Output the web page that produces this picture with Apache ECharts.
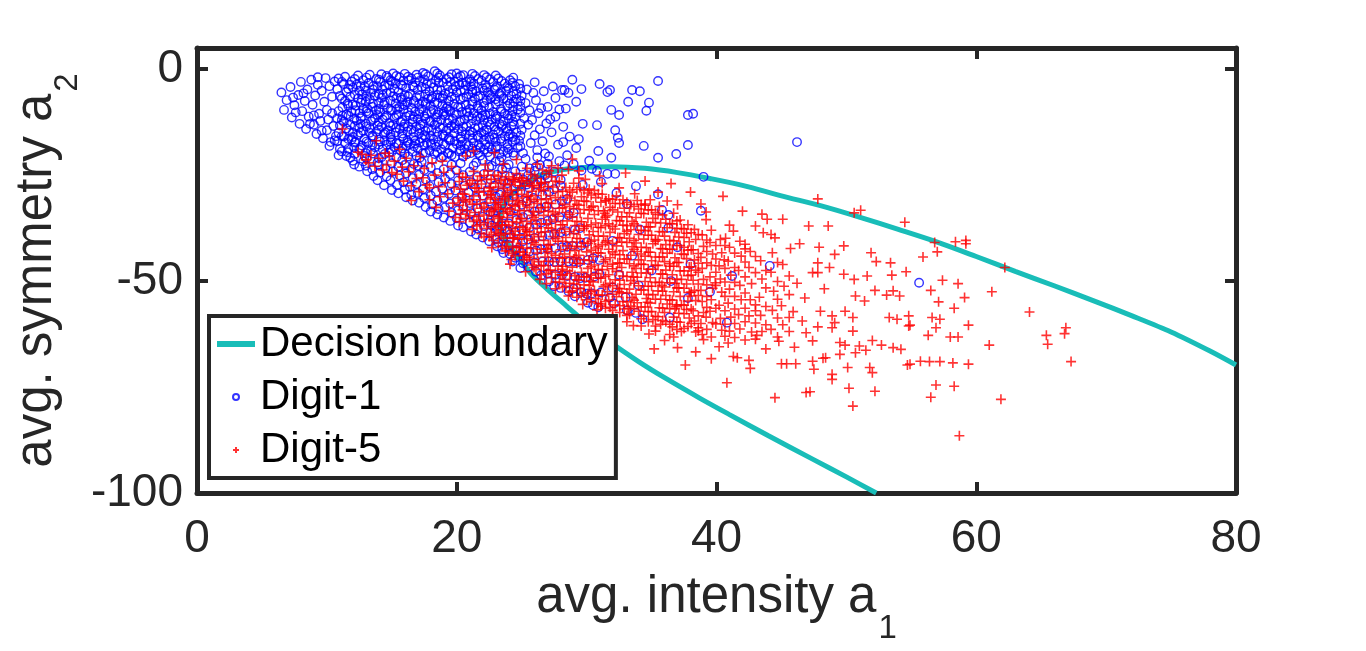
<!DOCTYPE html>
<html>
<head>
<meta charset="utf-8">
<title>Decision boundary</title>
<script src="https://cdn.jsdelivr.net/npm/echarts@6/dist/echarts.min.js"></script>
<style>
  html, body { margin: 0; padding: 0; background: #fff; }
  #chart { width: 1366px; height: 651px; }
</style>
</head>
<body>
<div id="chart"></div>
<script>
// axis ticks
const xTicks = [0, 20, 40, 60, 80];
const yTicks = [-100, -50, 0];

// decision boundary (lower branch first, then upper)
const boundary = [
  [52.3,-100],[50.0,-96.2],[47.4,-92.0],[44.0,-86.5],[41.0,-81.5],[38.7,-77.6],[36.0,-72.8],[34.0,-69.0],
  [32.0,-64.8],[30.0,-60.0],[28.5,-56.0],[27.0,-52.0],[25.7,-48.2],[24.8,-44.6],[24.0,-41.5],[23.5,-38.8],
  [23.3,-36.0],[23.5,-32.8],[24.1,-30.0],[25.0,-27.6],[26.2,-25.3],[27.8,-23.9],[29.8,-23.2],[32.0,-23.0],
  [34.5,-23.4],[37.0,-24.4],[39.5,-25.8],[42.0,-27.4],[45.0,-29.9],[48.0,-32.2],[51.0,-34.9],[54.0,-37.8],
  [57.0,-40.8],[60.0,-44.2],[63.0,-47.7],[66.0,-51.1],[69.0,-54.6],[72.0,-58.2],[75.0,-62.0],[78.0,-66.5],[80.0,-69.8]
];

// Digit-1 (blue circles)
const digit1Tip = [
  [6.5,-5.5],[6.7,-9.6],[6.9,-7.3],[7.2,-4.2],[7.3,-11.4],[7.5,-8.5],[7.8,-6.1],[7.9,-12.9],[8.0,-3.0],[8.1,-9.9],
  [8.3,-7.5],[8.4,-14.1],[8.5,-4.8],[8.6,-11.2],[8.8,-2.5],[8.9,-8.4],[9.0,-13.1],[9.1,-6.2],[9.2,-15.3],[9.3,-3.7],
  [9.4,-10.5],[9.5,-12.2],[9.6,-5.1],[9.7,-16.3],[9.8,-7.7],[9.9,-2.1],[10.0,-14.4],[10.0,-9.6],[10.1,-11.9],[10.2,-4.0],
  [10.3,-17.2],[10.4,-6.5],[10.5,-13.4],[10.6,-2.9],[10.7,-15.8],[10.4,-10.4],[10.2,-18.1]
];
const digit1Core = [
  [10.9,-2.2],[10.8,-4.7],[11.0,-6.3],[10.9,-9.9],[10.8,-11.6],[11.0,-13.3],[10.9,-15.0],[10.8,-17.0],[11.0,-18.8],[10.9,-20.3],
  [11.4,-1.8],[11.3,-3.5],[11.5,-5.4],[11.4,-7.5],[11.2,-9.0],[11.5,-10.7],[11.3,-12.4],[11.5,-14.0],[11.3,-15.9],[11.4,-17.4],[11.6,-19.6],
  [11.9,-2.9],[12.0,-4.4],[11.8,-6.5],[12.0,-8.3],[11.9,-10.1],[12.1,-11.7],[11.8,-13.1],[12.0,-15.0],[11.9,-16.6],[12.1,-18.5],[11.8,-20.9],
  [12.4,-1.5],[12.3,-3.6],[12.5,-5.1],[12.4,-6.9],[12.2,-8.6],[12.5,-10.4],[12.3,-12.1],[12.5,-13.8],[12.4,-15.5],[12.2,-17.1],[12.5,-19.0],
  [12.8,-2.6],[12.9,-4.1],[12.7,-6.0],[13.0,-7.7],[12.8,-9.4],[12.7,-11.2],[13.0,-12.9],[12.8,-14.5],[12.9,-16.4],[12.7,-18.0],[13.0,-19.8],
  [13.3,-1.3],[13.2,-3.3],[13.4,-5.6],[13.3,-7.1],[13.5,-8.9],[13.2,-10.4],[13.4,-12.3],[13.3,-13.9],[13.5,-15.7],[13.2,-17.4],[13.4,-19.1],
  [13.8,-2.3],[13.9,-4.0],[13.7,-6.3],[14.0,-8.0],[13.8,-9.7],[13.7,-11.5],[13.9,-13.3],[13.8,-14.8],[14.0,-16.6],[13.7,-18.4],
  [14.2,-1.2],[14.1,-3.0],[14.3,-4.8],[14.2,-6.8],[14.4,-8.4],[14.1,-10.2],[14.3,-11.9],[14.2,-13.6],[14.4,-15.3],[14.1,-17.1],[14.3,-18.9],
  [14.7,-2.0],[14.8,-3.8],[14.6,-5.7],[14.9,-7.4],[14.7,-9.2],[14.6,-10.9],[14.8,-12.7],[14.7,-14.4],[14.9,-16.0],[14.6,-17.8],[14.8,-19.7],
  [15.1,-1.0],[15.0,-2.9],[15.2,-4.6],[15.1,-6.4],[15.3,-8.1],[15.0,-9.8],[15.2,-11.5],[15.1,-13.1],[15.3,-14.9],[15.0,-16.7],[15.2,-18.4],
  [15.6,-1.9],[15.7,-3.6],[15.5,-5.4],[15.8,-7.2],[15.6,-8.9],[15.5,-10.7],[15.7,-12.4],[15.6,-14.1],[15.8,-15.8],[15.5,-17.6],[15.7,-19.3],
  [16.0,-1.1],[15.9,-2.7],[16.1,-4.4],[16.0,-6.1],[16.2,-7.8],[15.9,-9.5],[16.1,-11.2],[16.0,-12.9],[16.2,-14.7],[15.9,-16.4],[16.1,-18.1],[16.0,-19.9],
  [16.5,-2.2],[16.6,-3.9],[16.4,-5.8],[16.7,-7.5],[16.5,-9.1],[16.4,-10.9],[16.6,-12.5],[16.5,-14.3],[16.7,-16.0],[16.4,-17.7],[16.6,-19.5],
  [16.9,-1.3],[16.8,-3.1],[17.0,-4.9],[16.9,-6.6],[17.1,-8.3],[16.8,-10.0],[17.0,-11.8],[16.9,-13.5],[17.1,-15.2],[16.8,-16.9],[17.0,-18.7],[16.9,-20.4],
  [17.4,-0.9],[17.5,-2.4],[17.3,-4.2],[17.6,-5.9],[17.4,-7.7],[17.3,-9.4],[17.5,-11.1],[17.4,-12.8],[17.6,-14.6],[17.3,-16.3],[17.5,-18.0],[17.4,-19.8],
  [17.8,-1.7],[17.7,-3.5],[17.9,-5.2],[17.8,-7.0],[18.0,-8.7],[17.7,-10.5],[17.9,-12.2],[17.8,-13.9],[18.0,-15.7],[17.7,-17.4],[17.9,-19.1],
  [18.3,-0.5],[18.4,-2.6],[18.2,-4.3],[18.5,-6.1],[18.3,-7.8],[18.2,-9.6],[18.4,-11.4],[18.3,-13.1],[18.5,-14.8],[18.2,-16.6],[18.4,-18.3],[18.3,-20.0],
  [18.7,-1.5],[18.6,-3.2],[18.8,-5.0],[18.7,-6.7],[18.9,-8.5],[18.6,-10.2],[18.8,-12.0],[18.7,-13.7],[18.9,-15.4],[18.6,-17.2],[18.8,-18.9],
  [19.2,-2.3],[19.3,-4.0],[19.1,-5.8],[19.4,-7.5],[19.2,-9.2],[19.1,-11.0],[19.3,-12.7],[19.2,-14.5],[19.4,-16.2],[19.1,-17.9],[19.3,-19.7],
  [19.6,-1.2],[19.5,-3.0],[19.7,-4.7],[19.6,-6.5],[19.8,-8.2],[19.5,-9.9],[19.7,-11.7],[19.6,-13.4],[19.8,-15.1],[19.5,-16.9],[19.7,-18.6],[19.6,-20.3],
  [20.1,-2.0],[20.2,-3.7],[20.0,-5.5],[20.3,-7.2],[20.1,-9.0],[20.0,-10.7],[20.2,-12.4],[20.1,-14.2],[20.3,-15.9],[20.0,-17.7],[20.2,-19.4],
  [20.5,-1.4],[20.4,-3.2],[20.6,-4.9],[20.5,-6.7],[20.7,-8.4],[20.4,-10.1],[20.6,-11.9],[20.5,-13.6],[20.7,-15.4],[20.4,-17.1],[20.6,-18.8],[20.5,-20.6],
  [21.0,-2.4],[21.1,-4.1],[20.9,-5.9],[21.2,-7.6],[21.0,-9.4],[20.9,-11.1],[21.1,-12.9],[21.0,-14.6],[21.2,-16.3],[20.9,-18.1],[21.1,-19.8],
  [21.4,-1.6],[21.3,-3.4],[21.5,-5.2],[21.4,-6.9],[21.6,-8.7],[21.3,-10.4],[21.5,-12.2],[21.4,-13.9],[21.6,-15.7],[21.3,-17.4],[21.5,-19.1],
  [21.9,-2.7],[22.0,-4.5],[21.8,-6.2],[22.1,-8.0],[21.9,-9.7],[21.8,-11.5],[22.0,-13.2],[21.9,-15.0],[22.1,-16.7],[21.8,-18.5],
  [22.3,-1.9],[22.2,-3.7],[22.4,-5.5],[22.3,-7.3],[22.5,-9.0],[22.2,-10.8],[22.4,-12.5],[22.3,-14.3],[22.5,-16.0],[22.2,-17.8],[22.4,-19.6],
  [22.8,-3.0],[22.9,-4.8],[22.7,-6.6],[23.0,-8.3],[22.8,-10.1],[22.7,-11.9],[22.9,-13.6],[22.8,-15.4],[23.0,-17.1],[22.7,-18.9],
  [23.2,-2.2],[23.1,-4.0],[23.3,-5.8],[23.2,-7.6],[23.4,-9.4],[23.1,-11.2],[23.3,-12.9],[23.2,-14.7],[23.4,-16.4],[23.1,-18.2],[23.3,-20.0],
  [23.7,-3.4],[23.8,-5.1],[23.6,-6.9],[23.9,-8.7],[23.7,-10.5],[23.6,-12.3],[23.8,-14.0],[23.7,-15.8],[23.9,-17.6],[23.6,-19.4],
  [24.1,-2.6],[24.0,-4.5],[24.2,-6.3],[24.1,-8.1],[24.3,-9.9],[24.0,-11.7],[24.2,-13.5],[24.1,-15.3],[24.3,-17.1],[24.0,-18.9],
  [24.5,-4.0],[24.6,-5.8],[24.4,-7.7],[24.7,-9.5],[24.5,-11.3],[24.4,-13.1],[24.6,-14.9],[24.5,-16.7],[24.7,-18.5]
];
const digit1Fill = [
  [11.6,-8.1],[12.6,-12.9],[13.6,-3.9],[14.5,-14.9],[15.4,-9.4],[16.3,-2.6],[17.2,-13.1],[18.1,-6.5],[19.0,-15.8],[19.9,-4.1],
  [20.8,-10.3],[21.7,-17.9],[22.6,-7.0],[23.5,-13.2],[24.3,-3.2],[12.0,-16.0],[13.0,-5.0],[14.0,-12.5],[15.0,-19.5],[16.0,-8.5],
  [17.0,-2.0],[18.0,-17.5],[19.0,-10.0],[20.0,-1.0],[21.0,-15.5],[22.0,-11.0],[23.0,-1.5],[24.0,-16.0],[11.2,-11.0],[12.9,-20.5],
  [13.1,-9.2],[14.6,-1.6],[15.9,-13.6],[16.8,-17.5],[17.6,-8.0],[18.6,-2.0],[19.4,-12.0],[20.3,-18.0],[21.2,-5.5],[22.1,-14.6],
  [23.0,-10.8],[23.9,-19.8],[11.8,-3.7],[12.7,-7.2],[13.5,-17.8],[14.3,-6.1],[15.3,-3.3],[16.2,-16.9],[17.1,-10.6],[18.0,-12.4],
  [18.9,-6.9],[19.8,-13.9],[20.7,-3.8],[21.6,-11.1],[22.5,-18.3],[23.4,-5.4],[24.2,-11.0],[12.2,-9.7],[13.9,-10.8],[15.7,-6.7],
  [17.5,-15.6],[19.3,-8.8],[21.1,-2.9],[22.9,-16.2],[24.6,-7.0],[16.6,-11.8],[18.5,-10.7],[20.4,-14.7],[22.3,-4.4],[14.9,-17.2],
  [13.3,-15.0],[11.7,-14.5],[25.3,-8.0],[25.8,-12.0],[26.4,-14.2],[25.9,-5.6],[26.5,-9.2],[27.2,-11.8],[26.8,-19.9],[27.6,-6.8],
  [28.2,-17.2],[27.9,-9.5],[25.6,-23.4],[26.2,-20.8],[12.8,-21.8],[14.2,-20.8],[15.8,-21.5],[17.3,-21.9],[18.8,-20.9],[20.3,-22.2],
  [21.8,-20.4],[23.3,-21.6],[24.4,-20.4],[19.6,-22.5],[16.7,-22.4],[22.7,-22.8],[13.9,-22.0],[23.8,-23.2],[21.3,-22.8],[18.1,-21.3],
  [9.0,-10.9],[8.2,-5.7],[9.6,-14.5],[7.6,-10.2],[10.6,-16.8],[8.7,-12.9],[9.3,-1.9],[7.4,-6.7]
];
const digit1Mid = [
  [11.15,-3.0],[11.15,-6.9],[11.15,-12.0],[11.15,-15.8],[11.15,-19.4],[11.65,-4.6],[11.65,-8.6],[11.65,-11.0],[11.65,-16.5],[11.65,-18.8],
  [12.15,-2.3],[12.15,-6.0],[12.15,-13.4],[12.15,-17.3],[12.15,-20.0],[12.6,-4.0],[12.6,-7.9],[12.6,-11.6],[12.6,-15.0],[12.6,-18.6],
  [13.05,-2.0],[13.05,-6.4],[13.05,-10.0],[13.05,-13.5],[13.05,-17.1],[13.05,-21.0],[13.55,-4.8],[13.55,-8.1],[13.55,-11.8],[13.55,-16.0],[13.55,-19.9],
  [14.0,-2.5],[14.0,-5.8],[14.0,-9.4],[14.0,-14.2],[14.0,-17.8],[14.0,-21.0],[14.45,-3.9],[14.45,-7.8],[14.45,-11.4],[14.45,-16.8],[14.45,-20.0],
  [14.9,-2.6],[14.9,-5.5],[14.9,-9.6],[14.9,-13.4],[14.9,-15.4],[14.9,-18.9],[15.35,-1.6],[15.35,-6.8],[15.35,-10.9],[15.35,-13.8],[15.35,-17.4],[15.35,-20.8],
  [15.8,-3.9],[15.8,-8.3],[15.8,-12.0],[15.8,-15.2],[15.8,-18.7],[16.25,-1.8],[16.25,-6.4],[16.25,-10.2],[16.25,-13.6],[16.25,-17.3],[16.25,-20.6],
  [16.7,-4.3],[16.7,-8.0],[16.7,-11.2],[16.7,-14.8],[16.7,-18.2],[17.15,-2.8],[17.15,-6.2],[17.15,-9.9],[17.15,-14.0],[17.15,-17.3],[17.15,-20.9],
  [17.6,-1.2],[17.6,-4.6],[17.6,-8.3],[17.6,-11.7],[17.6,-16.0],[17.6,-19.7],[18.05,-3.3],[18.05,-6.9],[18.05,-10.1],[18.05,-14.4],[18.05,-17.9],
  [18.5,-1.0],[18.5,-4.8],[18.5,-8.0],[18.5,-12.5],[18.5,-15.9],[18.5,-19.6],[18.95,-3.1],[18.95,-6.3],[18.95,-10.6],[18.95,-13.9],[18.95,-17.6],[18.95,-20.5],
  [19.4,-1.9],[19.4,-5.4],[19.4,-9.6],[19.4,-14.0],[19.4,-16.6],[19.4,-19.9],[19.85,-3.0],[19.85,-6.9],[19.85,-10.3],[19.85,-12.9],[19.85,-17.0],[19.85,-20.7],
  [20.3,-1.6],[20.3,-5.0],[20.3,-8.9],[20.3,-12.1],[20.3,-16.4],[20.3,-19.0],[20.75,-3.0],[20.75,-6.5],[20.75,-9.9],[20.75,-13.5],[20.75,-17.7],[20.75,-20.1],
  [21.2,-1.1],[21.2,-4.8],[21.2,-8.3],[21.2,-11.6],[21.2,-14.9],[21.2,-18.7],[21.65,-2.3],[21.65,-6.5],[21.65,-9.2],[21.65,-13.7],[21.65,-16.2],[21.65,-19.8],
  [22.1,-1.4],[22.1,-5.1],[22.1,-8.7],[22.1,-12.0],[22.1,-15.5],[22.1,-19.0],[22.55,-2.4],[22.55,-6.1],[22.55,-10.5],[22.55,-13.1],[22.55,-16.6],[22.55,-20.6],
  [23.0,-4.4],[23.0,-7.1],[23.0,-11.6],[23.0,-14.3],[23.0,-18.6],[23.45,-2.8],[23.45,-6.3],[23.45,-10.0],[23.45,-13.6],[23.45,-17.0],[23.45,-20.8],
  [23.9,-4.0],[23.9,-7.3],[23.9,-10.9],[23.9,-14.6],[23.9,-18.4],[24.35,-2.0],[24.35,-5.3],[24.35,-8.8],[24.35,-12.4],[24.35,-16.0],[24.35,-19.7],
  [24.9,-4.6],[24.9,-7.5],[24.9,-10.3],[24.9,-12.9],[24.9,-15.7],[24.9,-18.2]
];
const digit1Nose = [
  [22.7,-36.9],[23.2,-40.9],[23.6,-43.4],[24.3,-45.4],[24.9,-46.9],[23.9,-38.0],[24.6,-42.6],[25.3,-44.7],[22.8,-33.9],[23.3,-29.6],
  [23.9,-26.9],[24.7,-25.6],[25.4,-27.2],[26.1,-23.0],[27.0,-22.3],[28.3,-22.7],[29.6,-23.9],[30.2,-21.6],[25.8,-25.8],[26.7,-27.8]
];
const digit1Band = [
  [11.5,-20.5],[12.0,-21.6],[12.1,-22.5],[12.5,-23.0],[13.0,-22.8],[13.1,-24.1],[13.5,-23.6],[13.6,-25.2],
  [14.0,-22.6],[14.1,-24.4],[13.9,-26.2],[14.5,-23.4],[14.6,-25.3],[14.4,-27.4],[15.0,-22.2],[15.1,-24.1],[14.9,-26.2],[15.0,-28.5],
  [15.5,-23.0],[15.6,-25.1],[15.4,-27.3],[15.5,-29.3],[16.0,-22.6],[16.1,-24.6],[15.9,-26.7],[16.0,-28.4],[16.1,-30.2],
  [16.5,-23.5],[16.6,-25.7],[16.4,-27.8],[16.5,-29.6],[16.6,-31.0],[17.0,-22.8],[17.1,-24.9],[16.9,-27.1],[17.0,-29.2],[17.1,-31.5],
  [17.5,-23.8],[17.6,-26.0],[17.4,-28.3],[17.5,-30.4],[17.6,-32.5],[18.0,-23.2],[18.1,-25.4],[17.9,-27.6],[18.0,-29.8],[18.1,-31.9],[18.0,-33.6],
  [18.5,-24.5],[18.6,-26.7],[18.4,-28.9],[18.5,-31.0],[18.6,-33.0],[18.5,-34.3],[19.0,-23.6],[19.1,-25.9],[18.9,-28.2],[19.0,-30.4],[19.1,-32.6],[19.0,-35.0],
  [19.5,-24.8],[19.6,-27.1],[19.4,-29.4],[19.5,-31.7],[19.6,-33.9],[19.5,-35.8],[20.0,-23.9],[20.1,-26.3],[19.9,-28.6],[20.0,-31.0],[20.1,-33.3],[20.0,-35.2],[20.1,-36.9],
  [20.5,-25.0],[20.6,-27.5],[20.4,-29.9],[20.5,-32.3],[20.6,-34.6],[20.5,-37.3],[21.0,-24.2],[21.1,-26.7],[20.9,-29.1],[21.0,-31.6],[21.1,-34.0],[21.0,-36.2],[21.1,-38.3],
  [21.5,-22.0],[21.6,-25.4],[21.4,-27.9],[21.5,-30.4],[21.6,-32.9],[21.5,-35.3],[21.6,-37.6],[21.5,-39.0],
  [22.0,-21.4],[22.1,-24.7],[21.9,-27.2],[22.0,-29.8],[22.1,-32.3],[22.0,-34.8],[22.1,-37.0],[22.0,-39.7],
  [22.5,-23.1],[22.6,-26.0],[22.4,-28.6],[22.5,-31.2],[22.6,-33.7],[22.5,-36.2],[22.6,-38.5],[22.5,-40.6],
  [23.0,-21.8],[23.1,-24.9],[22.9,-27.5],[23.0,-30.1],[23.1,-32.7],[23.0,-35.3],[23.1,-37.8],[23.0,-40.2],[23.1,-41.8],
  [23.5,-23.6],[23.6,-26.4],[23.4,-29.1],[23.5,-31.8],[23.6,-34.5],[23.5,-37.1],[23.6,-39.6],[23.5,-42.5],
  [24.0,-22.5],[24.1,-25.3],[23.9,-28.1],[24.0,-30.9],[24.1,-33.6],[24.0,-36.4],[24.1,-39.0],[24.0,-41.5],[24.1,-43.6],
  [24.5,-24.1],[24.6,-27.0],[24.4,-29.9],[24.5,-32.8],[24.6,-35.6],[24.5,-38.4],[24.6,-41.1],[24.5,-44.5],
  [25.0,-23.0],[25.1,-26.0],[24.9,-29.0],[25.0,-32.0],[25.1,-34.9],[25.0,-37.8],[25.1,-40.6],[25.0,-43.3],[25.1,-45.8],
  [25.5,-25.0],[25.6,-28.1],[25.4,-31.2],[25.5,-34.3],[25.6,-37.3],[25.5,-40.2],[25.6,-43.0],[25.5,-46.7],
  [26.0,-24.0],[26.1,-27.2],[25.9,-30.4],[26.0,-33.6],[26.1,-36.7],[26.0,-39.8],[26.1,-42.8],[26.0,-45.6],[26.1,-47.8],
  [26.5,-26.4],[26.6,-29.7],[26.4,-33.0],[26.5,-36.2],[26.6,-39.4],[26.5,-42.5],[26.6,-45.4],[26.5,-48.6],
  [27.0,-25.6],[27.1,-29.0],[26.9,-32.4],[27.0,-35.8],[27.1,-39.1],[27.0,-42.3],[27.1,-45.4],[27.0,-48.2],[27.1,-50.1],
  [27.5,-28.3],[27.6,-31.9],[27.4,-35.4],[27.5,-38.9],[27.6,-42.2],[27.5,-45.5],[27.6,-48.5],[27.5,-51.2],
  [28.0,-27.5],[28.1,-31.2],[27.9,-34.9],[28.0,-38.5],[28.1,-42.0],[28.0,-45.3],[28.1,-48.6],[28.0,-51.6],
  [28.5,-30.6],[28.6,-34.4],[28.4,-38.2],[28.5,-41.9],[28.6,-45.4],[28.5,-48.8],[28.6,-52.4],
  [29.0,-33.9],[29.1,-37.9],[28.9,-41.7],[29.0,-45.4],[29.1,-49.0],[29.0,-51.8],[29.1,-53.6],
  [29.5,-37.5],[29.6,-41.6],[29.4,-45.5],[29.5,-49.3],[29.6,-52.6],[30.0,-40.8],[30.1,-45.0],[29.9,-49.2],[30.0,-53.0],[30.1,-55.1],
  [30.5,-44.6],[30.6,-48.9],[30.4,-52.9],[30.5,-55.7],[31.0,-48.4],[31.1,-52.7],[30.9,-56.2],[32.0,-51.5],[32.1,-55.3],
  [33.0,-53.8],[33.1,-56.9],[33.8,-57.5],[34.3,-59.0],[36.4,-58.6],
  [32.0,-40.5],[33.5,-44.0],[35.0,-47.5],[31.0,-45.0],[34.0,-51.0],[36.5,-50.0],[38.0,-46.0],[32.5,-48.5],[37.0,-42.0],[39.5,-52.5]
];
const digit1Edge = [
  [24.8,-3.5],[25.0,-6.2],[24.9,-8.8],[25.2,-11.6],[25.0,-14.3],[24.8,-16.9],[25.1,-19.8],[25.4,-4.8],[25.6,-9.7],[25.5,-13.1],
  [25.7,-17.4],[25.3,-21.2],[26.0,-3.1],[26.1,-7.3],[26.3,-10.4],[26.0,-15.6],[26.2,-19.1],[26.4,-22.6],[26.7,-5.2],[26.9,-12.8],
  [26.6,-17.0],[27.0,-8.9],[27.3,-14.9],[27.1,-20.6],[27.4,-4.1],[27.6,-11.2],[27.8,-17.8],[27.9,-21.7],[28.1,-4.9],[28.3,-4.9],
  [28.6,-5.6],[28.9,-2.5],[29.2,-7.7],[29.6,-4.7],[28.4,-9.3],[28.2,-13.6],[28.7,-15.9],[29.7,-12.9],[29.4,-16.5],[29.2,-18.6],
  [28.5,-20.3],[29.0,-22.4],[29.7,-27.3],[30.4,-23.5],[30.8,-24.0],[31.1,-26.6],[30.8,-13.2],[27.5,-24.2],[28.0,-26.1],[26.8,-25.0]
];
const digit1Sparse = [
  [31.6,-5.4],[31.8,-4.9],[33.5,-4.9],[34.1,-5.2],[35.5,-2.8],[33.2,-7.7],[34.8,-7.9],[34.6,-9.8],[31.9,-9.6],[32.5,-10.8],
  [37.8,-10.8],[38.2,-10.5],[32.2,-14.4],[32.4,-16.2],[32.5,-17.4],[34.4,-18.1],[36.9,-20.0],[37.8,-17.9],[35.5,-20.9],[31.9,-20.9],
  [46.2,-17.2],[39.0,-25.4],[33.8,-27.6],[35.5,-29.5],[32.3,-29.2],[31.6,-24.7],[32.2,-24.7],[33.1,-31.8],[35.8,-33.2],[38.8,-33.4],
  [36.3,-34.4],[34.1,-37.8],[36.3,-37.4],[31.8,-53.9],[37.8,-54.0],[40.8,-59.8],[41.2,-48.8],[44.1,-46.4],[55.6,-50.4],[30.9,-19.3],[31.0,-3.5]
];

// Digit-5 (red plus signs)
const digit5Head = [
  [11.2,-14.1],[12.4,-19.6],[12.7,-20.1],[13.0,-21.4],[13.2,-22.1],[13.4,-20.3],[13.8,-16.9],[13.7,-22.9],[14.0,-21.0],[14.3,-23.8],
  [14.5,-19.8],[14.8,-20.5],[14.6,-22.6],[15.0,-24.4],[15.2,-21.7],[15.4,-24.8],[15.6,-18.9],[15.8,-23.1],[15.9,-26.4],[16.1,-21.0],
  [16.3,-24.2],[16.5,-27.5],[16.5,-31.0],[16.7,-22.8],[16.9,-25.8],[17.1,-28.9],[17.2,-20.6],[17.4,-25.6],[17.5,-23.4],[17.7,-27.3],
  [17.9,-28.0],[17.9,-30.8],[18.1,-22.1],[18.3,-25.0],[18.4,-32.6],[18.6,-27.7],[18.7,-30.1],[18.9,-21.7],[19.0,-24.3],[19.1,-26.8],
  [19.3,-29.4],[19.4,-33.5],[19.6,-23.0],[19.7,-31.6],[19.8,-27.9],[19.9,-35.0],[20.7,-20.5],[21.3,-19.3],[22.9,-19.7],[22.7,-42.1]
];
const digit5Core = [
  [20.2,-24.6],[20.2,-26.5],[20.3,-28.3],[20.1,-30.4],[20.2,-32.1],[20.3,-34.2],[20.2,-36.0],
  [20.7,-25.5],[20.8,-27.4],[20.6,-29.5],[20.7,-31.3],[20.8,-33.4],[20.7,-35.2],
  [21.3,-24.1],[21.2,-26.2],[21.4,-28.0],[21.3,-29.9],[21.2,-31.9],[21.4,-33.8],[21.3,-35.9],[21.2,-37.8],
  [21.8,-25.2],[21.9,-27.1],[21.7,-29.0],[21.8,-30.8],[21.9,-32.8],[21.7,-34.7],[21.8,-36.7],[21.9,-38.8],
  [22.4,-24.0],[22.3,-26.0],[22.5,-27.9],[22.4,-29.7],[22.3,-31.6],[22.5,-33.6],[22.4,-35.5],[22.3,-37.6],[22.5,-39.5],
  [22.9,-25.0],[23.0,-26.9],[22.8,-28.8],[22.9,-30.7],[23.0,-32.6],[22.8,-34.6],[22.9,-36.5],[23.0,-38.5],[22.8,-40.4],
  [23.5,-24.3],[23.4,-26.3],[23.6,-28.2],[23.5,-30.1],[23.4,-32.0],[23.6,-34.0],[23.5,-35.9],[23.4,-37.9],[23.6,-39.9],[23.5,-41.8],
  [24.0,-25.4],[24.1,-27.3],[23.9,-29.2],[24.0,-31.1],[24.1,-33.0],[23.9,-35.0],[24.0,-36.9],[24.1,-38.9],[23.9,-40.8],[24.0,-42.9],
  [24.6,-24.6],[24.5,-26.6],[24.7,-28.5],[24.6,-30.4],[24.5,-32.3],[24.7,-34.3],[24.6,-36.2],[24.5,-38.2],[24.7,-40.1],[24.6,-42.1],[24.5,-44.0],
  [25.1,-25.7],[25.2,-27.6],[25.0,-29.5],[25.1,-31.4],[25.2,-33.4],[25.0,-35.3],[25.1,-37.3],[25.2,-39.2],[25.0,-41.2],[25.1,-43.2],[25.2,-45.0],
  [25.7,-24.8],[25.6,-26.9],[25.8,-28.8],[25.7,-30.7],[25.6,-32.6],[25.8,-34.5],[25.7,-36.5],[25.6,-38.4],[25.8,-40.4],[25.7,-42.3],[25.6,-44.3],[25.8,-46.2],
  [26.2,-25.8],[26.3,-27.9],[26.1,-29.8],[26.2,-31.7],[26.3,-33.6],[26.1,-35.6],[26.2,-37.5],[26.3,-39.5],[26.1,-41.4],[26.2,-43.4],[26.3,-45.4],[26.1,-47.3],
  [26.8,-26.7],[26.7,-28.7],[26.9,-30.6],[26.8,-32.6],[26.7,-34.5],[26.9,-36.5],[26.8,-38.4],[26.7,-40.4],[26.9,-42.4],[26.8,-44.3],[26.7,-46.3],[26.9,-48.2],
  [27.3,-25.4],[27.4,-27.8],[27.2,-29.8],[27.3,-31.7],[27.4,-33.7],[27.2,-35.6],[27.3,-37.6],[27.4,-39.5],[27.2,-41.5],[27.3,-43.5],[27.4,-45.4],[27.2,-47.4],[27.3,-49.2],
  [27.9,-26.6],[27.8,-28.9],[28.0,-30.8],[27.9,-32.8],[27.8,-34.7],[28.0,-36.7],[27.9,-38.6],[27.8,-40.6],[28.0,-42.6],[27.9,-44.5],[27.8,-46.5],[28.0,-48.5],[27.9,-50.3],
  [28.4,-27.9],[28.5,-29.9],[28.3,-31.9],[28.4,-33.8],[28.5,-35.8],[28.3,-37.7],[28.4,-39.7],[28.5,-41.7],[28.3,-43.6],[28.4,-45.6],[28.5,-47.6],[28.3,-49.6],[28.4,-51.2],
  [29.0,-26.9],[28.9,-29.0],[29.1,-31.0],[29.0,-32.9],[28.9,-34.9],[29.1,-36.9],[29.0,-38.8],[28.9,-40.8],[29.1,-42.8],[29.0,-44.8],[28.9,-46.7],[29.1,-48.7],[29.0,-50.7],[28.9,-52.3],
  [29.5,-27.9],[29.6,-30.1],[29.4,-32.1],[29.5,-34.0],[29.6,-36.0],[29.4,-38.0],[29.5,-40.0],[29.6,-41.9],[29.4,-43.9],[29.5,-45.9],[29.6,-47.9],[29.4,-49.8],[29.5,-51.8],[29.6,-53.4],
  [30.1,-29.2],[30.0,-31.2],[30.2,-33.2],[30.1,-35.2],[30.0,-37.1],[30.2,-39.1],[30.1,-41.1],[30.0,-43.1],[30.2,-45.1],[30.1,-47.0],[30.0,-49.0],[30.2,-51.0],[30.1,-53.0],[30.0,-54.4],
  [30.6,-28.6],[30.7,-30.3],[30.5,-32.3],[30.6,-34.3],[30.7,-36.3],[30.5,-38.3],[30.6,-40.3],[30.7,-42.2],[30.5,-44.2],[30.6,-46.2],[30.7,-48.2],[30.5,-50.2],[30.6,-52.2],[30.7,-54.1],
  [31.2,-29.5],[31.1,-31.4],[31.3,-33.4],[31.2,-35.4],[31.1,-37.4],[31.3,-39.4],[31.2,-41.4],[31.1,-43.4],[31.3,-45.4],[31.2,-47.3],[31.1,-49.3],[31.3,-51.3],[31.2,-53.3],[31.1,-55.4],
  [31.7,-30.6],[31.8,-32.6],[31.6,-34.5],[31.7,-36.5],[31.8,-38.5],[31.6,-40.5],[31.7,-42.5],[31.8,-44.5],[31.6,-46.5],[31.7,-48.5],[31.8,-50.5],[31.6,-52.5],[31.7,-54.5],[31.8,-56.2],
  [32.3,-29.9],[32.2,-31.7],[32.4,-33.7],[32.3,-35.7],[32.2,-37.7],[32.4,-39.7],[32.3,-41.7],[32.2,-43.7],[32.4,-45.7],[32.3,-47.7],[32.2,-49.7],[32.4,-51.7],[32.3,-53.7],[32.2,-55.6],
  [32.8,-30.8],[32.9,-32.8],[32.7,-34.8],[32.8,-36.8],[32.9,-38.8],[32.7,-40.8],[32.8,-42.8],[32.9,-44.8],[32.7,-46.8],[32.8,-48.8],[32.9,-50.8],[32.7,-52.8],[32.8,-54.8],[32.9,-56.6],
  [33.4,-31.9],[33.3,-33.9],[33.5,-35.9],[33.4,-37.9],[33.3,-39.9],[33.5,-41.9],[33.4,-43.9],[33.3,-45.9],[33.5,-47.9],[33.4,-49.9],[33.3,-51.9],[33.5,-53.9],[33.4,-55.9],[33.3,-57.8],
  [33.9,-31.0],[34.0,-33.0],[33.8,-35.0],[33.9,-37.0],[34.0,-39.0],[33.8,-41.0],[33.9,-43.0],[34.0,-45.0],[33.8,-47.0],[33.9,-49.1],[34.0,-51.1],[33.8,-53.1],[33.9,-55.1],[34.0,-57.1],
  [34.5,-32.1],[34.4,-34.1],[34.6,-36.1],[34.5,-38.1],[34.4,-40.1],[34.6,-42.1],[34.5,-44.1],[34.4,-46.1],[34.6,-48.1],[34.5,-50.1],[34.4,-52.1],[34.6,-54.1],[34.5,-56.1],[34.4,-58.3],
  [35.0,-33.2],[35.1,-35.2],[34.9,-37.2],[35.0,-39.2],[35.1,-41.2],[34.9,-43.2],[35.0,-45.2],[35.1,-47.2],[34.9,-49.2],[35.0,-51.2],[35.1,-53.2],[34.9,-55.2],[35.0,-57.2],[35.1,-59.1],
  [35.6,-32.4],[35.5,-34.3],[35.7,-36.3],[35.6,-38.3],[35.5,-40.3],[35.7,-42.3],[35.6,-44.3],[35.5,-46.3],[35.7,-48.3],[35.6,-50.3],[35.5,-52.3],[35.7,-54.3],[35.6,-56.3],[35.5,-58.4],[35.7,-60.2],
  [36.1,-35.4],[36.2,-37.4],[36.0,-39.4],[36.1,-41.4],[36.2,-43.4],[36.0,-45.4],[36.1,-47.4],[36.2,-49.4],[36.0,-51.4],[36.1,-53.4],[36.2,-55.4],[36.0,-57.4],[36.1,-59.6],
  [36.7,-34.0],[36.6,-36.5],[36.8,-38.5],[36.7,-40.5],[36.6,-42.5],[36.8,-44.5],[36.7,-46.5],[36.6,-48.5],[36.8,-50.5],[36.7,-52.5],[36.6,-54.5],[36.8,-56.5],[36.7,-58.5],[36.6,-60.8],
  [37.2,-35.6],[37.3,-37.6],[37.1,-39.6],[37.2,-41.6],[37.3,-43.6],[37.1,-45.6],[37.2,-47.6],[37.3,-49.6],[37.1,-51.6],[37.2,-53.6],[37.3,-55.6],[37.1,-57.6],[37.2,-59.7],[37.3,-61.9],
  [37.8,-36.7],[37.7,-38.7],[37.9,-40.7],[37.8,-42.7],[37.7,-44.7],[37.9,-46.7],[37.8,-48.7],[37.7,-50.7],[37.9,-52.7],[37.8,-54.7],[37.7,-56.7],[37.9,-58.7],[37.8,-60.7],
  [38.3,-37.8],[38.4,-40.2],[38.2,-42.6],[38.3,-45.0],[38.4,-47.4],[38.2,-49.8],[38.3,-52.2],[38.4,-54.6],[38.2,-57.0],[38.3,-59.4],[38.4,-62.0],
  [38.9,-39.1],[39.0,-41.8],[38.8,-44.4],[38.9,-47.0],[39.0,-49.6],[38.8,-52.2],[38.9,-54.8],[39.0,-57.4],[38.8,-60.0],[38.9,-62.6],
  [39.6,-38.0],[39.5,-40.9],[39.7,-43.6],[39.6,-46.3],[39.5,-49.0],[39.7,-51.7],[39.6,-54.4],[39.5,-57.1],[39.7,-59.8],[39.6,-63.2],
  [40.3,-40.2],[40.4,-43.3],[40.2,-46.4],[40.3,-49.5],[40.4,-52.6],[40.2,-55.7],[40.3,-58.8],[40.4,-61.6],
  [41.0,-42.0],[40.9,-45.3],[41.1,-48.6],[41.0,-51.9],[40.9,-55.2],[41.1,-58.5],[41.0,-61.8],[40.9,-64.6],
  [41.8,-40.6],[41.9,-44.1],[41.7,-47.5],[41.8,-51.0],[41.9,-54.4],[41.7,-57.9],[41.8,-61.3],
  [42.6,-43.0],[42.5,-46.8],[42.7,-50.6],[42.6,-54.4],[42.5,-58.2],[42.7,-62.0],
  [43.4,-45.2],[43.5,-49.5],[43.3,-53.8],[43.4,-58.1],[43.5,-61.9],
  [44.3,-43.3],[44.2,-47.9],[44.4,-52.4],[44.3,-56.9],[44.2,-61.4],
  [45.1,-46.1],[45.2,-51.2],[45.0,-55.8],[45.1,-60.3]
];
const digit5Mid = [
  [20.45,-25.5],[20.45,-29.4],[20.45,-33.2],[21.0,-27.0],[21.0,-30.8],[21.55,-28.1],[21.55,-31.8],[21.55,-35.6],[21.55,-37.0],
  [22.1,-25.1],[22.1,-28.8],[22.1,-32.5],[22.1,-34.4],[22.1,-39.6],[22.65,-26.0],[22.65,-29.6],[22.65,-33.4],[22.65,-37.1],[22.65,-39.0],
  [23.2,-25.3],[23.2,-27.8],[23.2,-31.4],[23.2,-35.2],[23.2,-38.9],[23.2,-41.0],[23.75,-26.0],[23.75,-29.7],[23.75,-32.9],[23.75,-36.7],[23.75,-38.7],[23.75,-42.9],
  [24.3,-26.0],[24.3,-29.6],[24.3,-32.1],[24.3,-34.2],[24.3,-39.8],[24.3,-41.8],[24.3,-43.4],[24.85,-25.6],[24.85,-27.5],[24.85,-33.3],[24.85,-37.2],[24.85,-39.1],[24.85,-43.1],
  [25.4,-26.3],[25.4,-30.0],[25.4,-32.0],[25.4,-35.9],[25.4,-38.3],[25.4,-42.2],[25.4,-44.5],[25.95,-27.4],[25.95,-31.2],[25.95,-35.0],[25.95,-39.0],[25.95,-40.9],[25.95,-44.9],[25.95,-46.8],
  [26.5,-27.0],[26.5,-30.8],[26.5,-32.7],[26.5,-36.5],[26.5,-38.5],[26.5,-42.5],[26.5,-46.4],[26.5,-48.5],[27.05,-27.7],[27.05,-31.6],[27.05,-33.5],[27.05,-37.4],[27.05,-41.4],[27.05,-45.3],[27.05,-47.5],
  [27.6,-26.4],[27.6,-30.3],[27.6,-34.2],[27.6,-38.1],[27.6,-40.0],[27.6,-43.9],[27.6,-47.9],[27.6,-50.2],[28.15,-28.8],[28.15,-32.7],[28.15,-36.7],[28.15,-40.6],[28.15,-44.6],[28.15,-46.5],[28.15,-48.6],[28.15,-51.5],
  [28.7,-28.5],[28.7,-30.4],[28.7,-34.3],[28.7,-38.3],[28.7,-42.3],[28.7,-44.2],[28.7,-48.2],[28.7,-50.5],[28.7,-52.6],
  [29.25,-28.4],[29.25,-31.9],[29.25,-35.9],[29.25,-39.9],[29.25,-41.8],[29.25,-45.8],[29.25,-49.7],[29.25,-51.7],[29.25,-53.8],
  [29.8,-28.6],[29.8,-31.1],[29.8,-33.1],[29.8,-37.0],[29.8,-41.0],[29.8,-45.0],[29.8,-49.0],[29.8,-50.9],[29.8,-52.8],
  [30.35,-29.7],[30.35,-32.6],[30.35,-36.7],[30.35,-40.6],[30.35,-42.7],[30.35,-46.6],[30.35,-48.6],[30.35,-52.5],[30.35,-54.9],
  [30.9,-29.4],[30.9,-33.4],[30.9,-37.3],[30.9,-39.4],[30.9,-43.3],[30.9,-47.3],[30.9,-49.3],[30.9,-53.3],[30.9,-55.3],
  [31.45,-31.0],[31.45,-34.9],[31.45,-36.9],[31.45,-40.9],[31.45,-44.9],[31.45,-48.9],[31.45,-50.9],[31.45,-54.8],[31.45,-56.4],
  [32.0,-30.7],[32.0,-33.2],[32.0,-37.1],[32.0,-41.1],[32.0,-43.1],[32.0,-47.1],[32.0,-51.1],[32.0,-53.1],[32.0,-56.9],
  [32.55,-31.7],[32.55,-35.8],[32.55,-39.8],[32.55,-43.8],[32.55,-45.8],[32.55,-49.8],[32.55,-51.8],[32.55,-55.8],[32.55,-57.4],
  [33.1,-31.4],[33.1,-34.8],[33.1,-36.9],[33.1,-40.9],[33.1,-44.8],[33.1,-48.9],[33.1,-52.8],[33.1,-54.9],[33.1,-58.1],
  [33.65,-32.4],[33.65,-36.5],[33.65,-40.4],[33.65,-42.5],[33.65,-46.4],[33.65,-50.5],[33.65,-54.5],[33.65,-56.5],
  [34.2,-31.9],[34.2,-34.0],[34.2,-38.0],[34.2,-42.0],[34.2,-46.0],[34.2,-48.1],[34.2,-52.1],[34.2,-56.1],[34.2,-58.9],
  [34.75,-33.2],[34.75,-37.2],[34.75,-39.2],[34.75,-43.2],[34.75,-47.2],[34.75,-51.2],[34.75,-53.2],[34.75,-57.2],[34.75,-59.6],
  [35.3,-33.8],[35.3,-36.2],[35.3,-40.2],[35.3,-44.3],[35.3,-46.3],[35.3,-50.3],[35.3,-54.3],[35.3,-58.3],[35.3,-60.6],
  [35.85,-34.4],[35.85,-38.4],[35.85,-42.4],[35.85,-44.3],[35.85,-48.4],[35.85,-52.4],[35.85,-56.4],[35.85,-59.3],
  [36.4,-36.4],[36.4,-40.4],[36.4,-42.5],[36.4,-46.5],[36.4,-50.4],[36.4,-54.4],[36.4,-56.5],[36.4,-60.2],
  [36.95,-35.8],[36.95,-37.6],[36.95,-41.6],[36.95,-45.6],[36.95,-49.6],[36.95,-51.6],[36.95,-55.6],[36.95,-59.6],[36.95,-61.4],
  [37.5,-37.7],[37.5,-39.7],[37.5,-43.7],[37.5,-47.6],[37.5,-51.7],[37.5,-55.7],[37.5,-57.7],[37.5,-61.2],
  [38.05,-38.6],[38.05,-42.6],[38.05,-46.6],[38.05,-48.6],[38.05,-52.6],[38.05,-56.6],[38.05,-60.0],
  [38.6,-39.0],[38.6,-43.5],[38.6,-45.8],[38.6,-50.7],[38.6,-53.4],[38.6,-58.2],[38.6,-61.0],
  [39.25,-40.3],[39.25,-43.0],[39.25,-45.7],[39.25,-50.9],[39.25,-53.6],[39.25,-56.2],[39.25,-61.4],
  [39.95,-41.6],[39.95,-44.8],[39.95,-47.9],[39.95,-51.0],[39.95,-56.4],[39.95,-60.1],
  [40.65,-41.6],[40.65,-47.0],[40.65,-50.2],[40.65,-53.6],[40.65,-57.0],[40.65,-60.2],[40.65,-63.0],
  [41.4,-43.4],[41.4,-46.8],[41.4,-50.3],[41.4,-53.6],[41.4,-60.0],[41.4,-63.3],
  [42.2,-42.4],[42.2,-45.5],[42.2,-52.8],[42.2,-56.4],[42.2,-59.6],[42.2,-63.9],
  [43.0,-44.2],[43.0,-48.0],[43.0,-55.6],[43.0,-59.9],[43.0,-63.7],[43.8,-47.5],[43.8,-51.6],[43.8,-56.0],[43.8,-60.3],
  [44.7,-45.6],[44.7,-50.1],[44.7,-54.3],[44.7,-58.7],[44.7,-63.2],[45.6,-48.8],[45.6,-53.2],[45.6,-58.6]
];
const digit5Fill = [
  [20.5,-30.9],[21.0,-34.6],[21.6,-26.3],[22.1,-36.2],[22.6,-30.3],[23.2,-33.1],[23.7,-27.0],[24.3,-37.6],[24.8,-31.8],[25.4,-40.0],
  [25.9,-33.6],[26.5,-28.4],[27.0,-43.0],[27.6,-36.0],[28.1,-47.2],[28.7,-32.4],[29.2,-44.3],[29.8,-37.6],[30.3,-50.0],[30.9,-41.8],
  [31.4,-34.0],[32.0,-46.0],[32.5,-52.5],[33.1,-38.2],[33.6,-49.0],[34.2,-43.6],[34.7,-55.0],[35.3,-40.6],[35.8,-51.0],[36.4,-45.9],
  [36.9,-56.0],[37.5,-42.0],[38.0,-53.5],[38.6,-47.9],[39.2,-58.5],[39.9,-50.4],[40.6,-45.0],[41.4,-56.6],[42.2,-49.0],[43.0,-57.0],
  [24.1,-46.0],[25.3,-47.8],[26.4,-49.6],[27.6,-51.8],[28.6,-53.5],[29.7,-55.5],[30.8,-56.8],[32.0,-58.4],[33.1,-59.6],[34.2,-60.6],
  [35.3,-61.8],[36.4,-62.6],[22.2,-22.6],[23.6,-22.4],[25.4,-23.4],[26.9,-24.6],[28.1,-25.0],[29.9,-26.0],[31.2,-27.0],[32.5,-28.0],
  [33.7,-29.4],[34.9,-30.8]
];
const digit5Nose = [
  [22.6,-28.0],[23.0,-31.5],[23.3,-34.8],[23.1,-37.2],[23.4,-39.2],[23.8,-42.2],[24.2,-44.9],[23.7,-30.6],[23.9,-33.6],[24.3,-36.0],
  [24.4,-39.8],[24.8,-41.9],[25.2,-43.9],[24.2,-28.6],[24.7,-31.0],[24.9,-35.2],[25.3,-37.8],[25.5,-30.0],[25.8,-27.5],[26.0,-25.2],
  [26.5,-26.8],[27.1,-24.0],[25.0,-26.3],[24.4,-26.0],[23.5,-36.8],[22.9,-33.0],[26.6,-23.8],[27.8,-23.3],[28.6,-23.6],[29.4,-24.0]
];
const digit5Upper = [
  [28.9,-21.2],[29.4,-25.7],[30.2,-28.3],[31.5,-31.1],[34.5,-26.4],[34.5,-31.8],[36.2,-31.1],[37.0,-32.0],[38.8,-31.8],[39.2,-33.7],
  [31.0,-25.2],[33.0,-24.5],[35.5,-29.0],[36.5,-27.0],[38.0,-29.0],[39.2,-35.5],[40.5,-30.0],[41.0,-36.8],[42.0,-33.5],[43.5,-34.2],
  [45.1,-35.4],[43.9,-35.4],[43.0,-37.0],[42.2,-41.3],[40.7,-39.9],[41.3,-38.2],[43.6,-38.6],[44.2,-39.0],[44.5,-39.8],[46.4,-41.2],
  [45.7,-42.3],[47.8,-30.6],[50.6,-33.9],[51.1,-33.3],[54.5,-36.1],[56.8,-40.9],[57.0,-43.1],[58.4,-40.7],[59.2,-40.4],[59.2,-41.2],
  [62.2,-46.8],[48.6,-37.0],[47.1,-37.0],[49.8,-41.7],[49.1,-43.7],[47.8,-45.7],[47.9,-42.0],[26.2,-22.4],[24.6,-21.3],[27.3,-22.8]
];
const digit5Tail = [
  [53.4,-45.7],[53.5,-48.6],[52.3,-45.4],[51.9,-43.3],[55.9,-44.3],[54.6,-47.8],[57.4,-49.8],[58.6,-50.6],[61.2,-52.5],[59.1,-53.9],
  [57.1,-54.9],[56.5,-52.2],[58.3,-56.4],[64.1,-57.3],[66.9,-61.0],[66.8,-62.4],[65.4,-62.8],[65.5,-64.9],[61.0,-65.1],[59.4,-60.4],
  [56.3,-62.8],[58.0,-63.2],[58.6,-63.2],[57.2,-59.0],[56.6,-58.6],[56.9,-61.0],[54.8,-58.2],[54.9,-60.4],[67.3,-69.0],[59.4,-69.6],
  [58.2,-69.3],[57.2,-69.0],[56.4,-69.0],[55.7,-68.9],[54.9,-69.6],[54.7,-69.8],[56.9,-74.5],[58.3,-74.8],[56.5,-77.4],[61.9,-77.9],
  [58.7,-86.5],[47.8,-48.0],[47.4,-48.0],[48.7,-46.8],[49.8,-48.4],[50.6,-49.6],[51.6,-48.8],[50.7,-53.5],[51.4,-54.7],[52.2,-52.2],
  [53.1,-53.3],[53.6,-52.3],[54.1,-53.5],[49.9,-57.1],[50.5,-58.6],[48.9,-58.2],[48.0,-57.1],[49.1,-59.8],[46.9,-62.2],[47.8,-60.8],
  [46.6,-59.4],[47.4,-64.1],[49.5,-64.5],[51.0,-65.3],[48.9,-61.0],[50.5,-61.8],[46.2,-50.5],[46.8,-54.0],[45.9,-57.2],[48.3,-51.8]
];
const digit5Lower = [
  [26.9,-50.6],[31.1,-55.9],[33.2,-56.4],[33.6,-60.5],[34.8,-62.5],[36.0,-64.0],[35.2,-66.0],[37.0,-65.7],[37.6,-69.8],[38.4,-66.7],
  [39.6,-68.3],[41.3,-67.8],[41.6,-68.1],[42.5,-68.7],[42.6,-70.6],[40.8,-74.0],[44.5,-77.5],[45.0,-69.5],[45.4,-69.5],[46.1,-69.5],
  [46.9,-76.3],[47.2,-76.1],[47.4,-68.9],[47.5,-70.8],[48.2,-68.2],[48.4,-68.1],[48.9,-72.0],[48.9,-73.2],[50.1,-70.4],[50.2,-75.3],
  [50.5,-79.5],[51.8,-70.4],[52.0,-71.6],[52.2,-76.0],[50.7,-66.9],[51.5,-66.3],[49.5,-67.3],[49.9,-65.1],[54.2,-66.1],[53.6,-65.7],
  [52.7,-65.1],[52.0,-64.0],[54.8,-60.6],[53.9,-59.0],[53.3,-58.6],[39.0,-63.8],[40.2,-65.5],[43.8,-66.0],[44.8,-64.2],[46.0,-65.6],
  [43.1,-62.8],[45.6,-61.9],[36.7,-63.2],[38.6,-61.7]
];

const digit1 = [].concat(digit1Tip, digit1Core, digit1Fill, digit1Mid, digit1Nose, digit1Band, digit1Edge, digit1Sparse);
const digit5 = [].concat(digit5Head, digit5Core, digit5Mid, digit5Fill, digit5Nose, digit5Upper, digit5Tail, digit5Lower);

const font = 'Liberation Sans, Arial, Helvetica, sans-serif';
const axisColor = '#262626';
const teal = '#19bdb8';

var chart = echarts.init(document.getElementById('chart'), null, {renderer: 'canvas'});

function frameAxis(extra) {
    return Object.assign({
        type: 'value',
        axisLine: {show: true, onZero: false, lineStyle: {color: axisColor, width: 5}},
        axisTick: {show: true, inside: true, length: 11, lineStyle: {color: axisColor, width: 4}},
        splitLine: {show: false},
        nameMoveOverlap: false
    }, extra);
}

var option = {
    animation: false,
    backgroundColor: '#fff',
    textStyle: {fontFamily: font},
    grid: {left: 197, right: 130, top: 48, bottom: 158, outerBoundsMode: 'none'},
    legend: {
        orient: 'vertical',
        left: 209,
        top: 316,
        z: 10,
        backgroundColor: '#fff',
        borderColor: axisColor,
        borderWidth: 4,
        borderRadius: 0,
        padding: [4, 8, 4, 8],
        itemGap: 5,
        itemWidth: 38,
        itemHeight: 6,
        selectedMode: false,
        textStyle: {fontSize: 42, color: '#000', fontFamily: font, lineHeight: 48},
        data: [
            {name: 'Decision boundary', icon: 'rect', itemStyle: {color: teal}},
            'Digit-1',
            'Digit-5'
        ]
    },
    xAxis: [
        frameAxis({
            position: 'bottom', min: 0, max: 80, interval: 20,
            axisLabel: {fontSize: 46, color: axisColor, fontFamily: font, margin: 23, customValues: xTicks},
            name: '{m|avg. intensity a}{s|1}',
            nameLocation: 'middle',
            nameGap: 57,
            nameTextStyle: {
                rich: {
                    m: {fontSize: 51, color: axisColor, fontFamily: font},
                    s: {fontSize: 33, color: axisColor, fontFamily: font, padding: [62, 0, 0, 2]}
                }
            }
        }),
        frameAxis({position: 'top', min: 0, max: 80, interval: 20, axisLabel: {show: false}})
    ],
    yAxis: [
        frameAxis({
            position: 'left', min: -100, max: 5,
            axisTick: {show: true, inside: true, length: 11, lineStyle: {color: axisColor, width: 4}, customValues: yTicks},
            axisLabel: {fontSize: 46, color: axisColor, fontFamily: font, margin: 14, customValues: yTicks},
            name: '{m|avg. symmetry a}{s|2}',
            nameLocation: 'middle',
            nameRotate: 90,
            nameGap: 113,
            nameTextStyle: {
                rich: {
                    m: {fontSize: 51, color: axisColor, fontFamily: font},
                    s: {fontSize: 33, color: axisColor, fontFamily: font, padding: [62, 0, 0, 2]}
                }
            }
        }),
        frameAxis({
            position: 'right', min: -100, max: 5,
            axisTick: {show: true, inside: true, length: 11, lineStyle: {color: axisColor, width: 4}, customValues: yTicks},
            axisLabel: {show: false}
        })
    ],
    series: [
        {
            name: 'Decision boundary',
            type: 'line',
            z: 1,
            data: boundary,
            showSymbol: false,
            symbol: 'none',
            smooth: 0.3,
            clip: true,
            lineStyle: {color: teal, width: 5},
            itemStyle: {color: teal},
            emphasis: {disabled: true}
        },
        {
            name: 'Digit-1',
            type: 'scatter',
            z: 3,
            data: digit1,
            symbol: 'circle',
            symbolSize: 8.5,
            itemStyle: {color: 'rgba(0,0,0,0)', borderColor: '#0000ff', borderWidth: 1.4},
            emphasis: {disabled: true}
        },
        {
            name: 'Digit-5',
            type: 'scatter',
            z: 4,
            data: digit5,
            symbol: 'path://M5,0L5,10M0,5L10,5',
            symbolSize: 10,
            itemStyle: {color: 'rgba(0,0,0,0)', borderColor: '#ff0000', borderWidth: 1.6},
            emphasis: {disabled: true}
        }
    ]
};

chart.setOption(option);
</script>
</body>
</html>
